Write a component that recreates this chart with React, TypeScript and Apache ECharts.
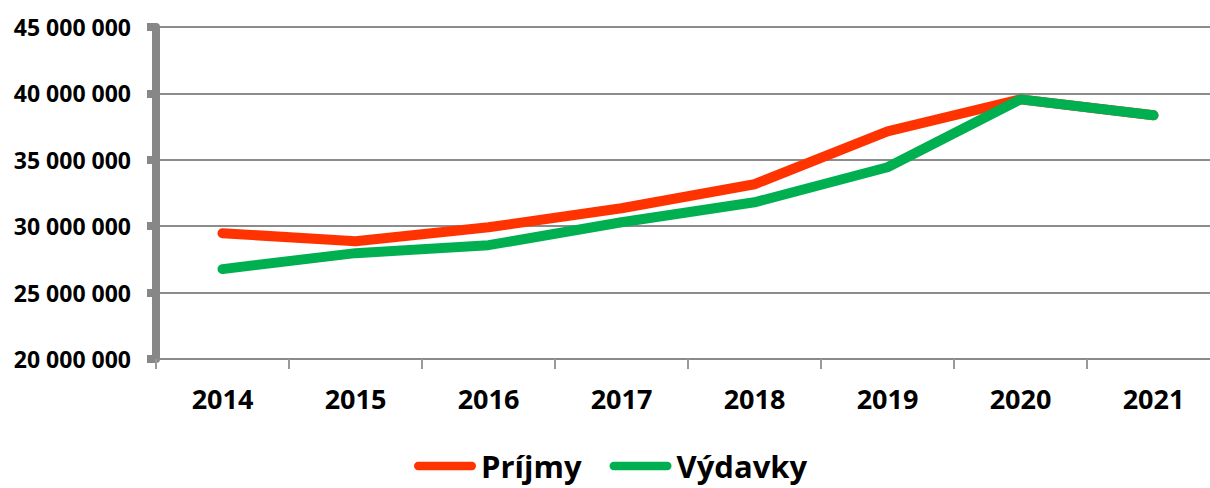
import React, { useEffect, useRef } from "react";
import * as echarts from "echarts";

const years = ["2014", "2015", "2016", "2017", "2018", "2019", "2020", "2021"];
const prijmy = [29470000, 28870000, 29920000, 31350000, 33160000, 37140000, 39550000, 38350000];
const vydavky = [26770000, 27970000, 28570000, 30300000, 31800000, 34440000, 39550000, 38350000];
const yMin = 20000000;
const yMax = 45000000;
const yStep = 5000000;

const fmt = (v: number) => String(Math.round(v)).replace(/\B(?=(\d{3})+(?!\d))/g, " ");

const legendIcon = "path://M4,0 H56 A4,4 0 0 1 56,8 H4 A4,4 0 0 1 4,0 Z";

export default function App() {
  const ref = useRef<HTMLDivElement>(null);
  useEffect(() => {
    if (!ref.current) return;
    const chart = echarts.init(ref.current, null, { renderer: "svg" });
    chart.setOption({
      animation: false,
      backgroundColor: "#ffffff",
      grid: { left: 156, top: 27, width: 1064, height: 332, containLabel: false },
      legend: {
        left: 414,
        top: 450,
        padding: 0,
        itemWidth: 62,
        itemHeight: 9,
        itemGap: 28,
        icon: legendIcon,
        textStyle: { fontFamily: "Open Sans", fontWeight: "bold", fontSize: 31, color: "#000", lineHeight: 32 },
        data: [
          { name: "Príjmy", itemStyle: { color: "#FF3300" } },
          { name: "Výdavky", itemStyle: { color: "#00B050" } },
        ],
      },
      xAxis: {
        type: "category",
        data: years,
        boundaryGap: true,
        axisLine: { lineStyle: { color: "#8a8a8a", width: 2 } },
        axisTick: { show: true, length: 10, lineStyle: { color: "#9a9a9a", width: 2 } },
        axisLabel: {
          margin: 26,
          fontFamily: "Open Sans",
          fontWeight: "bold",
          fontSize: 27,
          color: "#000",
        },
        splitLine: { show: false },
      },
      yAxis: {
        type: "value",
        min: yMin,
        max: yMax,
        interval: yStep,
        axisLine: { show: true, lineStyle: { color: "#878787", width: 8 } },
        axisTick: { show: true, length: 9, lineStyle: { color: "#878787", width: 8 } },
        axisLabel: {
          margin: 25,
          formatter: (v: number) => fmt(v),
          fontFamily: "Open Sans",
          fontWeight: "bold",
          fontSize: 23,
          color: "#000",
        },
        splitLine: { show: true, lineStyle: { color: "#8c8c8c", width: 2 } },
      },
      series: [
        {
          name: "Príjmy",
          type: "line",
          data: prijmy,
          symbol: "none",
          color: "#FF3300",
          lineStyle: { color: "#FF3300", width: 10, cap: "round", join: "round" },
        },
        {
          name: "Výdavky",
          type: "line",
          data: vydavky,
          symbol: "none",
          color: "#00B050",
          lineStyle: { color: "#00B050", width: 10, cap: "round", join: "round" },
        },
      ],
    });
    return () => chart.dispose();
  }, []);
  return (
    <div style={{ position: "fixed", left: 0, top: 0, width: 1210, height: 488, overflow: "hidden", background: "#fff" }}>
      <div ref={ref} style={{ width: 1230, height: 488 }} />
    </div>
  );
}
